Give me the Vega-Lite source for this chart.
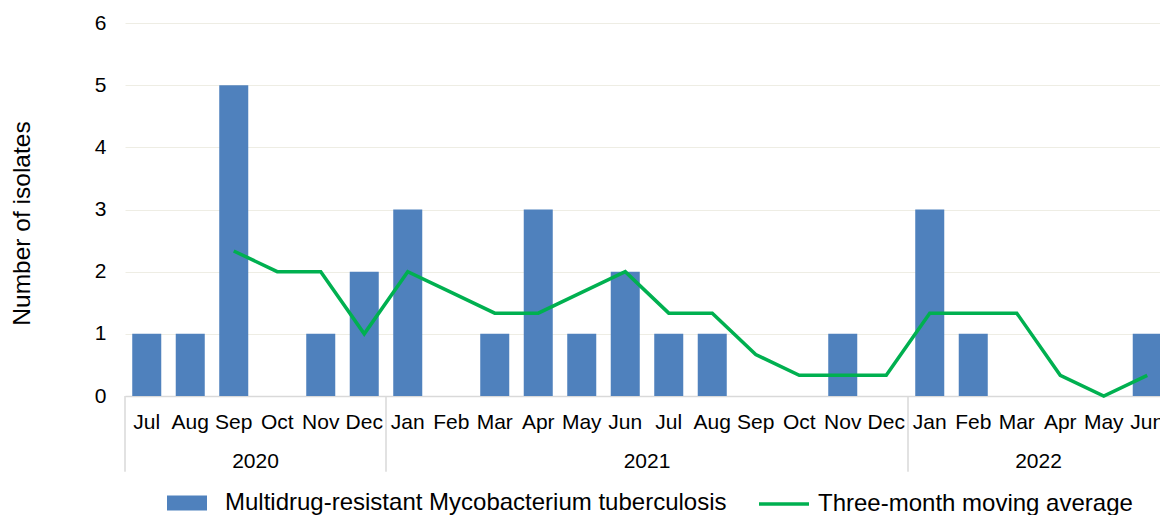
{
  "$schema": "https://vega.github.io/schema/vega-lite/v6.json",
  "width": 1044,
  "height": 373,
  "autosize": {"type": "none"},
  "padding": {"left": 125, "top": 23, "right": 0, "bottom": 119},
  "background": "white",
  "config": {
    "view": {"stroke": null},
    "font": "Liberation Sans",
    "legend": {
      "orient": "bottom",
      "direction": "horizontal",
      "labelFont": "Liberation Sans",
      "labelFontSize": 24,
      "labelColor": "#000000",
      "labelLimit": 0,
      "offset": 45,
      "title": null,
      "layout": {"bottom": {"anchor": "middle", "direction": "horizontal", "margin": 30, "center": true}}
    }
  },
  "datasets": {
    "months": [
      {"key": "Jul 2020", "isolates": 1, "moving_average": null},
      {"key": "Aug 2020", "isolates": 1, "moving_average": null},
      {"key": "Sep 2020", "isolates": 5, "moving_average": 2.333},
      {"key": "Oct 2020", "isolates": 0, "moving_average": 2},
      {"key": "Nov 2020", "isolates": 1, "moving_average": 2},
      {"key": "Dec 2020", "isolates": 2, "moving_average": 1},
      {"key": "Jan 2021", "isolates": 3, "moving_average": 2},
      {"key": "Feb 2021", "isolates": 0, "moving_average": 1.667},
      {"key": "Mar 2021", "isolates": 1, "moving_average": 1.333},
      {"key": "Apr 2021", "isolates": 3, "moving_average": 1.333},
      {"key": "May 2021", "isolates": 1, "moving_average": 1.667},
      {"key": "Jun 2021", "isolates": 2, "moving_average": 2},
      {"key": "Jul 2021", "isolates": 1, "moving_average": 1.333},
      {"key": "Aug 2021", "isolates": 1, "moving_average": 1.333},
      {"key": "Sep 2021", "isolates": 0, "moving_average": 0.667},
      {"key": "Oct 2021", "isolates": 0, "moving_average": 0.333},
      {"key": "Nov 2021", "isolates": 1, "moving_average": 0.333},
      {"key": "Dec 2021", "isolates": 0, "moving_average": 0.333},
      {"key": "Jan 2022", "isolates": 3, "moving_average": 1.333},
      {"key": "Feb 2022", "isolates": 1, "moving_average": 1.333},
      {"key": "Mar 2022", "isolates": 0, "moving_average": 1.333},
      {"key": "Apr 2022", "isolates": 0, "moving_average": 0.333},
      {"key": "May 2022", "isolates": 0, "moving_average": 0},
      {"key": "Jun 2022", "isolates": 1, "moving_average": 0.333}
    ],
    "years": [
      {"key": "Sep 2020", "year": "2020"},
      {"key": "Jun 2021", "year": "2021"},
      {"key": "Mar 2022", "year": "2022"}
    ],
    "separators": [
      {"key": "Jul 2020"},
      {"key": "Jan 2021"},
      {"key": "Jan 2022"}
    ]
  },
  "layer": [
    {
      "data": {"name": "months"},
      "mark": {"type": "bar", "width": {"band": 0.667}},
      "encoding": {
        "x": {
          "field": "key",
          "type": "nominal",
          "sort": null,
          "scale": {
            "domain": ["Jul 2020","Aug 2020","Sep 2020","Oct 2020","Nov 2020","Dec 2020","Jan 2021","Feb 2021","Mar 2021","Apr 2021","May 2021","Jun 2021","Jul 2021","Aug 2021","Sep 2021","Oct 2021","Nov 2021","Dec 2021","Jan 2022","Feb 2022","Mar 2022","Apr 2022","May 2022","Jun 2022"],
            "paddingInner": 0,
            "paddingOuter": 0
          },
          "axis": {
            "title": null,
            "labelExpr": "split(datum.value, ' ')[0]",
            "labelAngle": 0,
            "labelFontSize": 21,
            "labelColor": "#000000",
            "labelPadding": 15,
            "ticks": false,
            "grid": false,
            "domainColor": "#d9d9d9",
            "domainWidth": 1.5
          }
        },
        "y": {
          "field": "isolates",
          "type": "quantitative",
          "scale": {"domain": [0, 6], "nice": false},
          "axis": {
            "title": "Number of isolates",
            "titleFontSize": 24.5,
            "titleFontWeight": "normal",
            "titleColor": "#000000",
            "titlePadding": 60,
            "titleY": 200,
            "values": [0, 1, 2, 3, 4, 5, 6],
            "format": "d",
            "labelFontSize": 21,
            "labelColor": "#000000",
            "labelPadding": 19,
            "ticks": false,
            "domain": false,
            "grid": true,
            "gridColor": "#eeede4",
            "gridWidth": 1
          }
        },
        "fill": {
          "datum": "Multidrug-resistant Mycobacterium tuberculosis",
          "scale": {"range": ["#4f81bd"]},
          "legend": {
            "symbolType": "M-0.8,-0.3H0.8V0.3H-0.8Z",
            "symbolSize": 2500,
            "symbolStrokeWidth": 0,
            "labelOffset": 13
          }
        }
      }
    },
    {
      "data": {"name": "separators"},
      "mark": {"type": "rule", "color": "#d9d9d9", "strokeWidth": 1.5},
      "encoding": {
        "x": {"field": "key", "type": "nominal", "bandPosition": 0},
        "y": {"datum": 0, "type": "quantitative"},
        "y2": {"datum": -1.22}
      }
    },
    {
      "data": {"name": "years"},
      "mark": {"type": "text", "fontSize": 21, "baseline": "middle", "align": "center", "color": "#000000"},
      "encoding": {
        "x": {"field": "key", "type": "nominal", "bandPosition": 1},
        "y": {"datum": -1.06, "type": "quantitative"},
        "text": {"field": "year"}
      }
    },
    {
      "data": {"name": "months"},
      "transform": [{"filter": "isValid(datum.moving_average)"}],
      "mark": {"type": "line", "strokeWidth": 3.5, "interpolate": "linear"},
      "encoding": {
        "x": {"field": "key", "type": "nominal"},
        "y": {"field": "moving_average", "type": "quantitative"},
        "stroke": {
          "datum": "Three-month moving average",
          "scale": {"range": ["#00b050"]},
          "legend": {
            "symbolType": "stroke",
            "symbolSize": 2500,
            "symbolStrokeWidth": 3.5,
            "labelOffset": 7
          }
        }
      }
    }
  ]
}
